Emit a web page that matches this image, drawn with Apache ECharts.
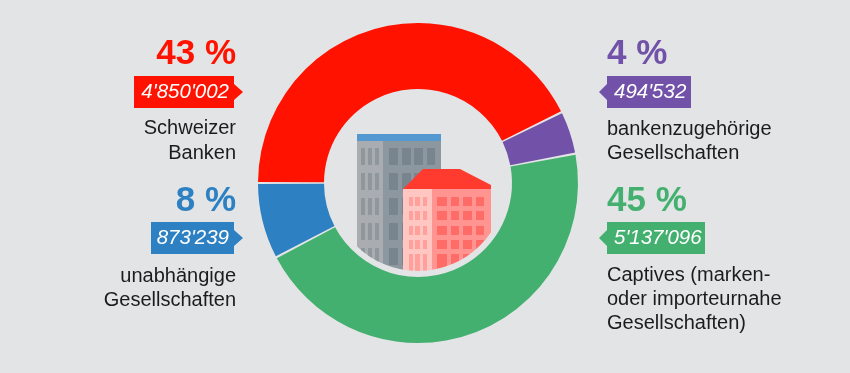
<!DOCTYPE html>
<html><head><meta charset="utf-8">
<style>html,body{margin:0;padding:0;background:#e3e4e6}#c{width:850px;height:373px}</style>
<script src="https://cdn.jsdelivr.net/npm/echarts@6/dist/echarts.min.js"></script>
</head><body><div id="c"></div>
<script>
const categories = ['Schweizer Banken','bankenzugehörige Gesellschaften','Captives (marken- oder importeurnahe Gesellschaften)','unabhängige Gesellschaften'];
const values = [4850002, 494532, 5137096, 873239];
const percents = ['43 %','4 %','45 %','8 %'];
const valueLabels = ["4'850'002","494'532","5'137'096","873'239"];
const nameLines = [['Schweizer','Banken'],['bankenzugehörige','Gesellschaften'],['Captives (marken-','oder importeurnahe','Gesellschaften)'],['unabhängige','Gesellschaften']];
const colors = ['#ff1200','#7152a8','#44b06f','#2d80c2'];

const FONT = '"Liberation Sans", Arial, sans-serif';
const BG = '#e3e4e6';
const cx = 418, cy = 183;
// label block layout per category: side, percent y, tag box, text y
const blocks = [
  {side:'left',  edge:236, py:54,  tx0:134, tx1:234, ty0:76,  ty1:108, ly:[128,153]},
  {side:'right', edge:607, py:54,  tx0:607, tx1:691, ty0:76,  ty1:108, ly:[129,153]},
  {side:'right', edge:607, py:201, tx0:607, tx1:705, ty0:222, ty1:254, ly:[275,299,323]},
  {side:'left',  edge:236, py:201, tx0:151, tx1:234, ty0:222, ty1:254, ly:[276,300]}
];
const g = [];
function rect(x0,y0,x1,y1,fill,z){g.push({type:'rect',z:z||1,shape:{x:x0,y:y0,width:x1-x0,height:y1-y0},style:{fill}});}
function poly(points,fill,z){g.push({type:'polygon',z:z||1,shape:{points},style:{fill}});}
function text(x,y,t,font,fill,align){g.push({type:'text',z:5,x,y,style:{text:t,font,fill,align,verticalAlign:'middle'}});}

// grey tower
rect(357,141,383,290,'#a9adb1');
rect(383,141,441,290,'#8d979f');
rect(357,134,441,141,'#5398d0');
[[148,165],[173,190],[198,215],[223,240],[248,265]].forEach(r=>{
  [[361,365],[368,372],[375,379]].forEach(c=>rect(c[0],r[0],c[1],r[1],'#8f969c'));
  [[389,398],[402,411],[414,423],[427,435]].forEach(c=>rect(c[0],r[0],c[1],r[1],'#78858e'));
});
// red house
rect(403,189,432,290,'#ffc6c2',2);
rect(432,189,491,290,'#ff9490',2);
poly([[403,189],[423,169],[460,169],[491,185],[491,189]],'#ff3b30',2);
[[197,206],[211,220],[226,235],[240,249],[254,275]].forEach(r=>{
  [[409,413],[415,420],[423,427]].forEach(c=>rect(c[0],r[0],c[1],r[1],'#ffa09c',2));
  [[437,447],[451,459],[463,472],[476,484]].forEach(c=>rect(c[0],r[0],c[1],r[1],'#ff6b66',2));
});
// mask: clips the buildings to the inner circle
g.push({type:'ring',z:3,shape:{cx,cy,r:125,r0:88},style:{fill:BG}});

categories.forEach((_,i)=>{
  const b = blocks[i], left = b.side==='left', col = colors[i];
  text(b.edge, b.py, percents[i], 'bold 35px '+FONT, col, left?'right':'left');
  const my = (b.ty0+b.ty1)/2;
  const pts = left
    ? [[b.tx0,b.ty0],[b.tx1,b.ty0],[b.tx1,my-8],[b.tx1+9,my],[b.tx1,my+8],[b.tx1,b.ty1],[b.tx0,b.ty1]]
    : [[b.tx0,b.ty0],[b.tx1,b.ty0],[b.tx1,b.ty1],[b.tx0,b.ty1],[b.tx0,my+8],[b.tx0-8,my],[b.tx0,my-8]];
  poly(pts,col,4);
  text(left?b.tx1-5:b.tx0+7, my, valueLabels[i], 'italic 20.5px '+FONT, '#fff', left?'right':'left');
  nameLines[i].forEach((l,k)=>text(b.edge, b.ly[k], l, '20px '+FONT, '#1c1c1c', left?'right':'left'));
});

const chart = echarts.init(document.getElementById('c'),null,{renderer:'canvas'});
chart.setOption({
  animation:false,
  backgroundColor:BG,
  color:colors,
  graphic:{elements:g},
  series:[{
    type:'pie', z:10, silent:true,
    center:[cx,cy], radius:[94,160],
    startAngle:180, clockwise:true, padAngle:0.8,
    label:{show:false}, labelLine:{show:false},
    data:categories.map((name,i)=>({name,value:values[i]}))
  }]
});
</script></body></html>
